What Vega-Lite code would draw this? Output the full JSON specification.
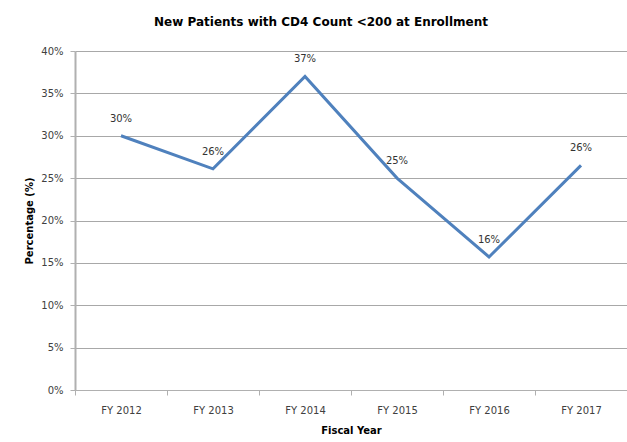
{
  "$schema": "https://vega.github.io/schema/vega-lite/v6.json",
  "width": 552,
  "height": 339,
  "autosize": {"type": "none"},
  "padding": {"left": 75, "top": 51, "right": 0, "bottom": 52},
  "background": "white",
  "title": {
    "text": "New Patients with CD4 Count <200 at Enrollment",
    "font": "DejaVu Sans",
    "fontSize": 12,
    "fontWeight": "bold",
    "color": "#000000",
    "anchor": "middle",
    "dx": -30,
    "offset": 17
  },
  "config": {
    "view": {"stroke": null},
    "axis": {
      "labelFont": "DejaVu Sans",
      "labelFontSize": 10,
      "labelColor": "#404040",
      "titleFont": "DejaVu Sans",
      "titleFontSize": 10,
      "titleFontWeight": "bold",
      "titleColor": "#000000",
      "domainColor": "#b0b0b0",
      "tickColor": "#b0b0b0",
      "gridColor": "#a8a8a8",
      "tickSize": 5
    }
  },
  "data": {
    "values": [
      {"year": "FY 2012", "pct": 30.0, "label": "30%"},
      {"year": "FY 2013", "pct": 26.1, "label": "26%"},
      {"year": "FY 2014", "pct": 37.0, "label": "37%"},
      {"year": "FY 2015", "pct": 25.0, "label": "25%"},
      {"year": "FY 2016", "pct": 15.7, "label": "16%"},
      {"year": "FY 2017", "pct": 26.5, "label": "26%"}
    ]
  },
  "encoding": {
    "x": {
      "field": "year",
      "type": "ordinal",
      "sort": null,
      "scale": {"type": "band", "paddingInner": 0, "paddingOuter": 0},
      "axis": {
        "title": "Fiscal Year",
        "labelAngle": 0,
        "tickBand": "extent",
        "labelPadding": 10,
        "titlePadding": 10,
        "domainWidth": 1
      }
    },
    "y": {
      "field": "pct",
      "type": "quantitative",
      "scale": {"domain": [0, 40], "nice": false},
      "axis": {
        "title": "Percentage (%)",
        "values": [0, 5, 10, 15, 20, 25, 30, 35, 40],
        "labelExpr": "datum.value + '%'",
        "labelPadding": 7,
        "titlePadding": 6,
        "grid": true,
        "domainWidth": 2
      }
    }
  },
  "layer": [
    {
      "mark": {"type": "line", "color": "#4F81BD", "strokeWidth": 3}
    },
    {
      "mark": {
        "type": "text",
        "dy": -17,
        "font": "DejaVu Sans",
        "fontSize": 10,
        "color": "#333333"
      },
      "encoding": {"text": {"field": "label"}}
    }
  ]
}
